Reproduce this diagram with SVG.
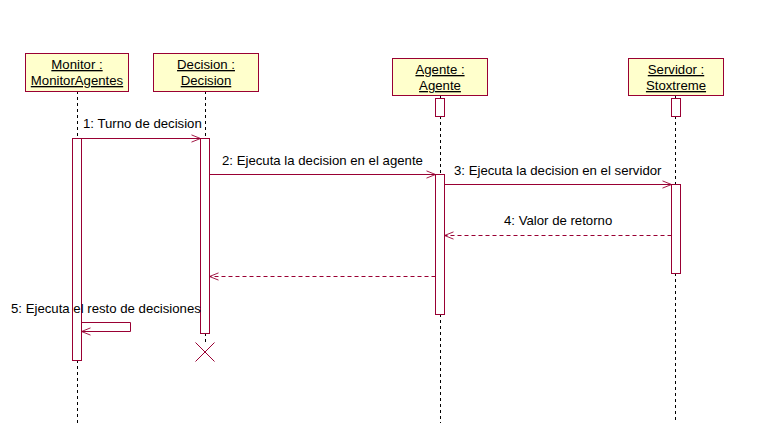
<svg xmlns="http://www.w3.org/2000/svg" width="759" height="442" viewBox="0 0 759 442">
<style>
.box{fill:#FFFFCC;stroke:#990033;stroke-width:1}
.act{fill:#FFFFFF;stroke:#990033;stroke-width:1}
.life{stroke:#000;stroke-width:1;stroke-dasharray:3 3;fill:none}
.msg{stroke:#990033;stroke-width:1;fill:none}
.ret{stroke:#990033;stroke-width:1;fill:none;stroke-dasharray:4 3}
text{font-family:"Liberation Sans",Arial,sans-serif;font-size:13.2px;fill:#000}
.t{text-anchor:middle;text-decoration:underline}
</style>
<defs>
<marker id="arr" viewBox="0 0 10 10" refX="10" refY="5" markerWidth="10" markerHeight="9" markerUnits="userSpaceOnUse" orient="auto">
<path d="M0,1 L10,5 L0,9" fill="none" stroke="#990033" stroke-width="1"/>
</marker>
</defs>
<rect width="759" height="442" fill="#fff"/>
<g id="lifelines">
<path class="life" d="M77.5,91V138M77.5,360V423"/>
<path class="life" d="M205.5,91V138M205.5,333V343"/>
<path class="life" d="M440.5,95V98M440.5,116V174M440.5,314V423"/>
<path class="life" d="M675.5,95V98M675.5,116V184M675.5,273V423"/>
</g>
<g id="monitor">
<rect class="box" x="25.5" y="53.5" width="103" height="38"/>
<text class="t" x="77" y="69">Monitor :</text>
<text class="t" x="77" y="85">MonitorAgentes</text>
<rect class="act" x="72.5" y="138.5" width="9" height="222"/>
</g>
<g id="decision">
<rect class="box" x="153.5" y="53.5" width="105" height="38"/>
<text class="t" x="206" y="69">Decision :</text>
<text class="t" x="206" y="85">Decision</text>
<rect class="act" x="200.5" y="138.5" width="9" height="195"/>
<path class="msg" d="M195.5,342.5L214.5,361.5M214.5,342.5L195.5,361.5"/>
</g>
<g id="agente">
<rect class="box" x="392.5" y="58.5" width="95" height="37"/>
<text class="t" x="440" y="74">Agente :</text>
<text class="t" x="440" y="90">Agente</text>
<rect class="act" x="435.5" y="98.5" width="9" height="18"/>
<rect class="act" x="435.5" y="174.5" width="9" height="140"/>
</g>
<g id="servidor">
<rect class="box" x="628.5" y="58.5" width="95" height="37"/>
<text class="t" x="676" y="74">Servidor :</text>
<text class="t" x="676" y="90">Stoxtreme</text>
<rect class="act" x="671.5" y="98.5" width="9" height="18"/>
<rect class="act" x="671.5" y="184.5" width="9" height="89"/>
</g>
<g id="connectors">
<line class="msg" x1="81.5" y1="138.5" x2="200.5" y2="138.5" marker-end="url(#arr)"/>
<text x="83" y="128">1: Turno de decision</text>
<line class="msg" x1="209.5" y1="174.5" x2="435.5" y2="174.5" marker-end="url(#arr)"/>
<text x="222" y="165">2: Ejecuta la decision en el agente</text>
<line class="msg" x1="444.5" y1="184.5" x2="671.5" y2="184.5" marker-end="url(#arr)"/>
<text x="454" y="175">3: Ejecuta la decision en el servidor</text>
<line class="ret" x1="671.5" y1="235.5" x2="444.5" y2="235.5" marker-end="url(#arr)"/>
<text x="504" y="225">4: Valor de retorno</text>
<line class="ret" x1="435.5" y1="276.5" x2="209.5" y2="276.5" marker-end="url(#arr)"/>
<polyline class="msg" points="81.5,322.5 130.5,322.5 130.5,331.5 81.5,331.5" marker-end="url(#arr)"/>
<text x="11" y="313">5: Ejecuta el resto de decisiones</text>
</g>
</svg>
